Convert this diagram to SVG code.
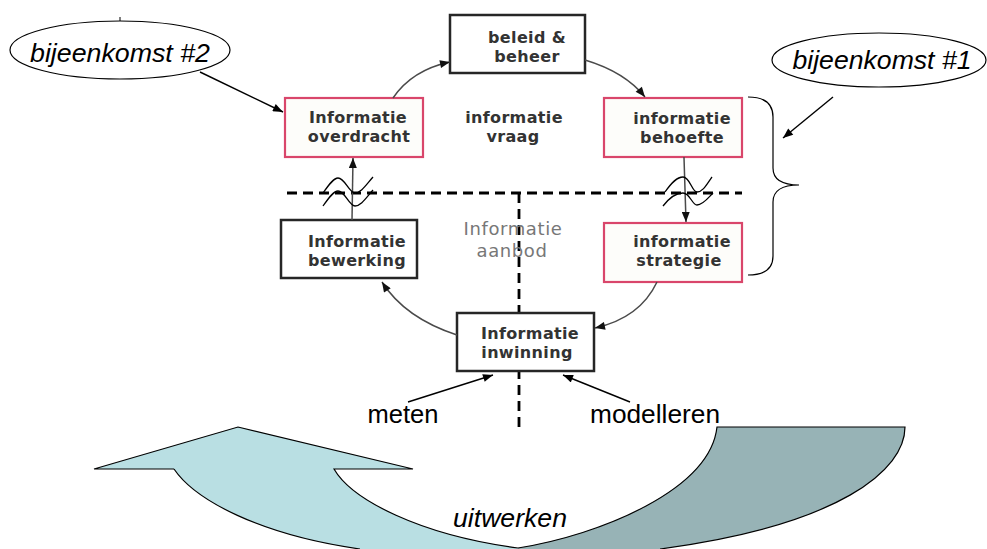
<svg xmlns="http://www.w3.org/2000/svg" width="987" height="549" viewBox="0 0 987 549">
  <defs>
    <style>
      .box-black { fill: #ffffff; stroke: #262626; stroke-width: 2.5; }
      .box-red { fill: #fdfdfa; stroke: #d9466b; stroke-width: 2.2; }
      .ntext { font-family: "DejaVu Sans", Verdana, sans-serif; font-weight: bold; font-size: 16px; letter-spacing: 0.35px; fill: #333333; text-anchor: middle; }
      .ltext { font-family: "DejaVu Sans", Verdana, sans-serif; font-size: 18px; letter-spacing: 0.6px; fill: #777777; text-anchor: middle; }
      .cycle { fill: none; stroke: #4a4a4a; stroke-width: 1.5; marker-end: url(#headGray); }
      .pointer { fill: none; stroke: #000000; stroke-width: 1.4; marker-end: url(#headBlack); }
      .dash { fill: none; stroke: #000000; stroke-width: 2.8; stroke-dasharray: 10 6; }
      .wave { fill: none; stroke: #000000; stroke-width: 1.3; }
      .bubble { fill: #ffffff; stroke: #000000; stroke-width: 1.2; }
      .btext { font-family: "Liberation Sans", Arial, sans-serif; font-style: italic; font-size: 26px; fill: #000000; text-anchor: middle; }
      .label { font-family: "Liberation Sans", Arial, sans-serif; font-size: 26px; fill: #000000; text-anchor: middle; }
      .outline { fill: none; stroke: #000000; stroke-width: 1.2; }
    </style>
    <marker id="headGray" viewBox="0 0 10 8" refX="10" refY="4" markerWidth="11" markerHeight="8" markerUnits="userSpaceOnUse" orient="auto">
      <path d="M0,0 L10,4 L0,8 Z" fill="#111111"/>
    </marker>
    <marker id="headBlack" viewBox="0 0 10 8" refX="10" refY="4" markerWidth="11" markerHeight="8" markerUnits="userSpaceOnUse" orient="auto">
      <path d="M0,0 L10,4 L0,8 Z" fill="#000000"/>
    </marker>
  </defs>

  <rect width="987" height="549" fill="#ffffff"/>

  <!-- U-turn arrow "uitwerken" -->
  <g id="uitwerken">
    <path d="M174,469 L94,469 L238,427 L413,469 L334,469 C352,500 420,535 518,548 L518,549 L360,549 C260,535 195,500 174,469 Z" fill="#b9dfe3"/>
    <path d="M518,548 C600,535 710,490 717,427 L905,427 C905,470 840,525 660,549 L518,549 Z" fill="#97b3b6"/>
    <path class="outline" d="M174,469 L94,469 L238,427 L413,469 L334,469 C352,500 420,535 518,548"/>
    <path class="outline" d="M174,469 C195,500 260,535 360,549"/>
    <path class="outline" d="M518,548 C600,535 710,490 717,427 L905,427 C905,470 840,525 660,549"/>
    <text class="label" style="font-style:italic" x="510" y="527" font-size="24" textLength="114" lengthAdjust="spacingAndGlyphs">uitwerken</text>
  </g>

  <!-- quadrant divider lines -->
  <g id="dividers">
    <line class="dash" x1="287" y1="193" x2="742" y2="193"/>
    <line class="dash" x1="519" y1="193" x2="519" y2="433"/>
  </g>

  <!-- nodes -->
  <g id="beleid-beheer">
    <rect class="box-black" x="450" y="15" width="135" height="58"/>
    <text class="ntext" x="527" y="43">beleid &amp;</text>
    <text class="ntext" x="527" y="62">beheer</text>
  </g>
  <g id="informatie-overdracht">
    <rect class="box-red" x="285" y="98" width="138" height="59"/>
    <text class="ntext" x="358" y="123">Informatie</text>
    <text class="ntext" x="359" y="142">overdracht</text>
  </g>
  <g id="informatie-vraag">
    <text class="ntext" x="514" y="123">informatie</text>
    <text class="ntext" x="513" y="142">vraag</text>
  </g>
  <g id="informatie-behoefte">
    <rect class="box-red" x="604" y="98" width="138" height="59"/>
    <text class="ntext" x="682" y="124">informatie</text>
    <text class="ntext" x="682" y="143">behoefte</text>
  </g>
  <g id="informatie-strategie">
    <rect class="box-red" x="604" y="223" width="138" height="59"/>
    <text class="ntext" x="682" y="247">informatie</text>
    <text class="ntext" x="679" y="266">strategie</text>
  </g>
  <g id="informatie-bewerking">
    <rect class="box-black" x="281" y="220" width="136" height="58"/>
    <text class="ntext" x="357" y="247">Informatie</text>
    <text class="ntext" x="357" y="266">bewerking</text>
  </g>
  <g id="informatie-aanbod">
    <text class="ltext" x="513" y="235">Informatie</text>
    <text class="ltext" x="512" y="257">aanbod</text>
  </g>
  <g id="informatie-inwinning">
    <rect class="box-black" x="457" y="313" width="137" height="58"/>
    <text class="ntext" x="530" y="339">Informatie</text>
    <text class="ntext" x="527" y="358">inwinning</text>
  </g>

  <g id="bijeenkomst-2">
    <ellipse class="bubble" cx="120" cy="50" rx="110" ry="29"/>
    <line x1="120" y1="17" x2="120" y2="21" stroke="#000000" stroke-width="1"/>
    <text class="btext" x="120" y="62" textLength="180" lengthAdjust="spacingAndGlyphs">bijeenkomst #2</text>
  </g>
  <g id="bijeenkomst-1">
    <ellipse class="bubble" cx="879" cy="60" rx="107" ry="27"/>
    <text class="btext" x="882" y="69" textLength="179" lengthAdjust="spacingAndGlyphs">bijeenkomst #1</text>
  </g>
  <g id="meten">
    <text class="label" x="403" y="423" textLength="71" lengthAdjust="spacingAndGlyphs">meten</text>
  </g>
  <g id="modelleren">
    <text class="label" x="655" y="423" textLength="130" lengthAdjust="spacingAndGlyphs">modelleren</text>
  </g>

  <!-- connectors -->
  <g id="connectors">
    <path class="cycle" d="M393,98 Q412,70 450,62"/>
    <path class="cycle" d="M585,60 Q625,72 645,97"/>
    <path class="cycle" d="M684,157 L686,222"/>
    <path class="cycle" d="M657,282 Q640,318 595,328"/>
    <path class="cycle" d="M457,335 Q405,318 382,282"/>
    <path class="cycle" d="M352,220 L353,158"/>

    <path class="pointer" d="M200,72 L283,112"/>
    <path class="pointer" d="M833,97 L783,138"/>
    <path class="pointer" d="M408,402 L493,375"/>
    <path class="pointer" d="M630,402 L563,375"/>

    <!-- brace around the two strategy boxes -->
    <path class="outline" d="M748,97 Q773,97 773,117 L773,168 Q773,185 799,185 Q773,185 773,202 L773,256 Q773,275 748,275"/>

    <!-- break marks where arrows cross the divider -->
    <path class="wave" d="M323,193 C330,183 334,178 338,178 C345,178 349,193 355,193 C361,193 366,185 373,177"/>
    <path class="wave" d="M323,206 C330,196 334,191 338,191 C345,191 349,206 355,206 C361,206 366,198 373,190"/>
    <path class="wave" d="M665,192 C672,182 677,177 683,177 C690,177 692,192 697,192 C703,192 707,184 712,177"/>
    <path class="wave" d="M663,206 C670,197 677,193 683,193 C690,193 692,205 697,205 C703,205 708,198 713,193"/>
  </g>
</svg>
